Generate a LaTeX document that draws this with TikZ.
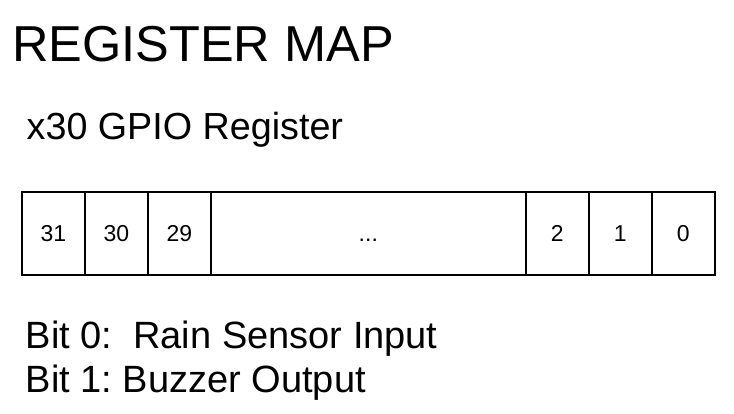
\documentclass[tikz,border=0pt]{standalone}
\usepackage{fontspec}
\setmainfont{Liberation Sans}
\frenchspacing
\begin{document}
\begin{tikzpicture}[x=1pt,y=-1pt,
  txt/.style={inner sep=0pt, anchor=base west, text=black},
  cell/.style={draw=black, line width=1.6pt, minimum height=83pt, inner sep=0pt, text height=17pt, text depth=0pt, anchor=north west, font=\fontsize{23}{28}\selectfont}]
\useasboundingbox (0,0) rectangle (734,414);
\node[txt, font=\fontsize{50.5}{60}\selectfont] (title) at (12,61.7) {REGISTER MAP};
\node[txt, font=\fontsize{37.7}{45}\selectfont] (sub) at (26.5,140) {x30 GPIO Register};
\node[cell, minimum width=63pt] (b31) at (21,191) {31};
\node[cell, minimum width=63pt] (b30) at (84,191) {30};
\node[cell, minimum width=63pt] (b29) at (147,191) {29};
\node[cell, minimum width=315pt] (bdots) at (210,191) {...};
\node[cell, minimum width=63pt] (b2) at (525,191) {2};
\node[cell, minimum width=63pt] (b1) at (588,191) {1};
\node[cell, minimum width=63pt] (b0) at (651,191) {0};
\node[txt, font=\fontsize{38}{44}\selectfont] (l0) at (25.5,348) {Bit 0:\ \ Rain Sensor Input};
\node[txt, font=\fontsize{38}{44}\selectfont] (l1) at (25.5,392) {Bit 1: Buzzer Output};
\end{tikzpicture}
\end{document}
